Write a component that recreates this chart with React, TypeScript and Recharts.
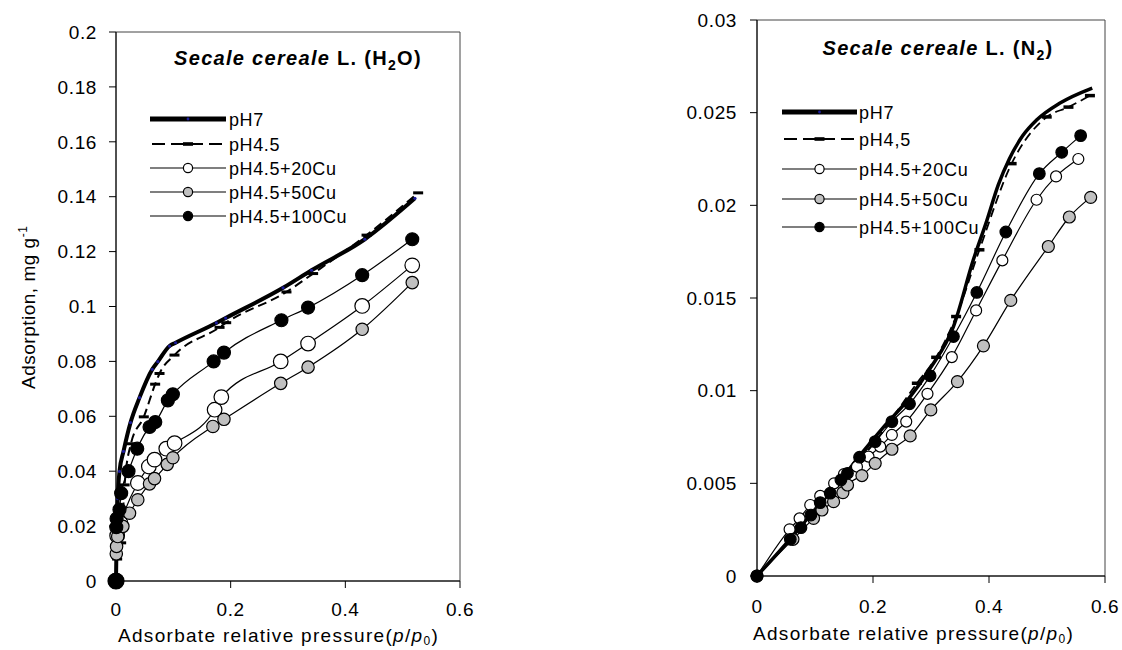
import React from 'react';
import { LineChart, Line, XAxis, YAxis, ReferenceArea } from 'recharts';

const FONT = "'Liberation Sans', Arial, Helvetica, sans-serif";

// ---------- axis ticks ----------
const xTicks = [0, 0.2, 0.4, 0.6];
const h2oYTicks = [0, 0.02, 0.04, 0.06, 0.08, 0.1, 0.12, 0.14, 0.16, 0.18, 0.2];
const n2YTicks = [0, 0.005, 0.01, 0.015, 0.02, 0.025, 0.03];

// ---------- series names ----------
const h2oSeries = ['pH7', 'pH4.5', 'pH4.5+20Cu', 'pH4.5+50Cu', 'pH4.5+100Cu'];
const n2Series = ['pH7', 'pH4,5', 'pH4.5+20Cu', 'pH4.5+50Cu', 'pH4.5+100Cu'];

// ---------- H2O (left) ----------
const h2oPH7X = [0, 0.001, 0.003, 0.0061, 0.0131, 0.0253, 0.041, 0.0632, 0.073, 0.0934, 0.104, 0.175, 0.1913, 0.2914, 0.341, 0.434, 0.5214];
const h2oPH7Y = [0, 0.015, 0.03, 0.0399, 0.0472, 0.0577, 0.0668, 0.0771, 0.0799, 0.0856, 0.0868, 0.094, 0.0958, 0.1068, 0.1132, 0.1245, 0.1394];

const h2oPH45X = [0, 0.002, 0.009, 0.015, 0.026, 0.0485, 0.0683, 0.0759, 0.102, 0.1806, 0.1922, 0.2973, 0.3438, 0.437, 0.527];
const h2oPH45Y = [0, 0.008, 0.0139, 0.035, 0.05, 0.0598, 0.0717, 0.0756, 0.0823, 0.0924, 0.0941, 0.1053, 0.112, 0.126, 0.1414];

const h2oCu20X = [0, 0.002, 0.008, 0.0381, 0.0573, 0.0672, 0.0877, 0.1022, 0.172, 0.1837, 0.2873, 0.335, 0.4294, 0.5167];
const h2oCu20Y = [0, 0.0165, 0.021, 0.0357, 0.0417, 0.0442, 0.0482, 0.0502, 0.0624, 0.067, 0.08, 0.0865, 0.1002, 0.115];

const h2oCu50X = [0, 0.0005, 0.001, 0.003, 0.012, 0.0236, 0.038, 0.0585, 0.0672, 0.0894, 0.0992, 0.169, 0.1883, 0.2873, 0.335, 0.4294, 0.5167];
const h2oCu50Y = [0, 0.0099, 0.0126, 0.0162, 0.0199, 0.0247, 0.0296, 0.0354, 0.0373, 0.0425, 0.0449, 0.0563, 0.0589, 0.072, 0.0779, 0.0917, 0.1087];

const h2oCu100X = [0, 0.0005, 0.001, 0.0061, 0.009, 0.0218, 0.037, 0.0585, 0.0685, 0.0905, 0.0992, 0.1703, 0.1883, 0.2885, 0.335, 0.4294, 0.5167];
const h2oCu100Y = [0, 0.0196, 0.0227, 0.026, 0.032, 0.04, 0.0482, 0.0561, 0.0579, 0.0658, 0.068, 0.08, 0.0832, 0.095, 0.0996, 0.1114, 0.1245];

// ---------- N2 (right) ----------
const n2PH7X = [0, 0.06, 0.1, 0.14, 0.18, 0.22, 0.26, 0.2985, 0.3387, 0.373, 0.396, 0.416, 0.435, 0.458, 0.482, 0.5225, 0.578];
const n2PH7Y = [0, 0.0021, 0.0036, 0.005, 0.0066, 0.0081, 0.0095, 0.0112, 0.01346, 0.01706, 0.01915, 0.0211, 0.0225, 0.02375, 0.0246, 0.02552, 0.02633];

const n2PH45X = [0, 0.06, 0.1, 0.15, 0.2, 0.2756, 0.3089, 0.3433, 0.3835, 0.439, 0.4995, 0.537, 0.574];
const n2PH45Y = [0, 0.0021, 0.0036, 0.0053, 0.0071, 0.0104, 0.0118, 0.014, 0.0176, 0.02225, 0.02477, 0.0253, 0.02592];

const n2Cu20X = [0, 0.0562, 0.0734, 0.0918, 0.109, 0.133, 0.15, 0.1723, 0.1923, 0.2124, 0.2325, 0.2573, 0.2939, 0.3359, 0.3778, 0.423, 0.482, 0.5156, 0.554];
const n2Cu20Y = [0, 0.00252, 0.00311, 0.00383, 0.00432, 0.005, 0.0055, 0.0059, 0.00644, 0.00698, 0.00761, 0.00833, 0.00983, 0.01181, 0.01433, 0.01703, 0.0203, 0.02156, 0.0225];

const n2Cu50X = [0, 0.062, 0.0975, 0.112, 0.132, 0.1481, 0.1561, 0.1809, 0.2038, 0.2326, 0.2641, 0.2997, 0.3456, 0.3904, 0.4375, 0.5023, 0.5385, 0.5753];
const n2Cu50Y = [0, 0.00198, 0.00311, 0.00356, 0.00401, 0.0045, 0.00491, 0.00542, 0.00608, 0.00684, 0.00756, 0.00896, 0.01049, 0.01242, 0.01487, 0.01778, 0.01937, 0.02043];

const n2Cu100X = [0, 0.0574, 0.0758, 0.093, 0.109, 0.1263, 0.1447, 0.156, 0.1768, 0.2038, 0.2326, 0.263, 0.2985, 0.3387, 0.379, 0.429, 0.4868, 0.5254, 0.558];
const n2Cu100Y = [0, 0.00198, 0.00261, 0.00329, 0.00396, 0.00447, 0.00518, 0.00554, 0.00641, 0.00725, 0.00833, 0.00929, 0.0108, 0.01292, 0.0153, 0.01856, 0.02171, 0.02286, 0.02376];

type Pt = { x: number; y: number };
const pts = (xs: number[], ys: number[]): Pt[] => xs.map((x, i) => ({ x, y: ys[i] }));

const GRAY = '#c0c0c0';

const circleDot = (fill: string, r: number, r0?: number) => (p: any) => {
  const key = `c-${p.index}`;
  if (p.cx == null || p.cy == null) return <g key={key} />;
  const rr = p.index === 0 && r0 ? r0 : r;
  return <circle key={key} cx={p.cx} cy={p.cy} r={rr} fill={fill} stroke="#000" strokeWidth={1.2} />;
};
const barDot = (w: number, h: number) => (p: any) => {
  const key = `b-${p.index}`;
  if (p.cx == null || p.cy == null) return <g key={key} />;
  return <rect key={key} x={p.cx - w / 2} y={p.cy - h / 2} width={w} height={h} fill="#000" />;
};
const blueDot = (p: any) => {
  const key = `u-${p.index}`;
  if (p.cx == null || p.cy == null) return <g key={key} />;
  return <circle key={key} cx={p.cx} cy={p.cy} r={1.6} fill="#1c1c9c" />;
};

const tickStyle = { fontSize: 19, fill: '#000', fontFamily: FONT, letterSpacing: 0.6 };

function H2OChart() {
  return (
    <LineChart width={480} height={650} margin={{ top: 32, right: 20, bottom: 19, left: 0 }}>
      <ReferenceArea x1={0} x2={0.6} y1={0} y2={0.2} fill="none" stroke="#444" strokeWidth={1} ifOverflow="visible" />
      <XAxis type="number" dataKey="x" domain={[0, 0.6]} ticks={xTicks} interval={0} height={50}
        tickSize={7} tickMargin={15} tick={tickStyle} axisLine={{ stroke: '#000' }} tickLine={{ stroke: '#000' }} />
      <YAxis type="number" domain={[0, 0.2]} ticks={h2oYTicks} interval={0} width={116}
        tickSize={7} tickMargin={12} tick={tickStyle} axisLine={{ stroke: '#000' }} tickLine={{ stroke: '#000' }} />
      <Line name={h2oSeries[0]} data={pts(h2oPH7X, h2oPH7Y)} dataKey="y" type="monotone" stroke="#000" strokeWidth={4}
        dot={blueDot} activeDot={false} isAnimationActive={false} />
      <Line name={h2oSeries[1]} data={pts(h2oPH45X, h2oPH45Y)} dataKey="y" type="monotone" stroke="#000" strokeWidth={2}
        strokeDasharray="9 5" dot={barDot(10, 3)} activeDot={false} isAnimationActive={false} />
      <Line name={h2oSeries[2]} data={pts(h2oCu20X, h2oCu20Y)} dataKey="y" type="monotone" stroke="#000" strokeWidth={1.2}
        dot={circleDot('#fff', 7.3)} activeDot={false} isAnimationActive={false} />
      <Line name={h2oSeries[3]} data={pts(h2oCu50X, h2oCu50Y)} dataKey="y" type="monotone" stroke="#000" strokeWidth={1.2}
        dot={circleDot(GRAY, 6.2)} activeDot={false} isAnimationActive={false} />
      <Line name={h2oSeries[4]} data={pts(h2oCu100X, h2oCu100Y)} dataKey="y" type="monotone" stroke="#000" strokeWidth={1.2}
        dot={circleDot('#000', 6.5, 8)} activeDot={false} isAnimationActive={false} />
    </LineChart>
  );
}

function N2Chart() {
  return (
    <LineChart width={482} height={650} margin={{ top: 20, right: 17, bottom: 24, left: 0 }}>
      <ReferenceArea x1={0} x2={0.6} y1={0} y2={0.03} fill="none" stroke="#444" strokeWidth={1} ifOverflow="visible" />
      <XAxis type="number" dataKey="x" domain={[0, 0.6]} ticks={xTicks} interval={0} height={50}
        tickSize={7} tickMargin={17} tick={tickStyle} axisLine={{ stroke: '#000' }} tickLine={{ stroke: '#000' }} />
      <YAxis type="number" domain={[0, 0.03]} ticks={n2YTicks} interval={0} width={117}
        tickSize={7} tickMargin={13} tick={tickStyle} axisLine={{ stroke: '#000' }} tickLine={{ stroke: '#000' }} />
      <Line name={n2Series[0]} data={pts(n2PH7X, n2PH7Y)} dataKey="y" type="monotone" stroke="#000" strokeWidth={3.5}
        dot={false} activeDot={false} isAnimationActive={false} />
      <Line name={n2Series[1]} data={pts(n2PH45X, n2PH45Y)} dataKey="y" type="monotone" stroke="#000" strokeWidth={1.8}
        strokeDasharray="9 5" dot={barDot(10, 3.5)} activeDot={false} isAnimationActive={false} />
      <Line name={n2Series[2]} data={pts(n2Cu20X, n2Cu20Y)} dataKey="y" type="monotone" stroke="#000" strokeWidth={1.2}
        dot={circleDot('#fff', 5.5)} activeDot={false} isAnimationActive={false} />
      <Line name={n2Series[3]} data={pts(n2Cu50X, n2Cu50Y)} dataKey="y" type="monotone" stroke="#000" strokeWidth={1.2}
        dot={circleDot(GRAY, 6)} activeDot={false} isAnimationActive={false} />
      <Line name={n2Series[4]} data={pts(n2Cu100X, n2Cu100Y)} dataKey="y" type="monotone" stroke="#000" strokeWidth={1.2}
        dot={circleDot('#000', 5.8)} activeDot={false} isAnimationActive={false} />
    </LineChart>
  );
}

function LegendBlock({ names, x1, x2, tx, rows, spacing }: { names: string[]; x1: number; x2: number; tx: number; rows: number[]; spacing: number }) {
  const mx = (x1 + x2) / 2;
  return (
    <g fontFamily={FONT} fontSize={18} fill="#000">
      {names.map((n, i) => {
        const y = rows[i];
        let glyph: React.ReactNode = null;
        if (i === 0) {
          glyph = (
            <g>
              <line x1={x1} y1={y} x2={x2} y2={y} stroke="#000" strokeWidth={5} />
              <circle cx={mx} cy={y} r={1.4} fill="#1c1c9c" />
            </g>
          );
        } else if (i === 1) {
          glyph = (
            <g>
              <line x1={x1 + 2} y1={y} x2={x2} y2={y} stroke="#000" strokeWidth={2} strokeDasharray="13 6" />
              <rect x={mx - 5} y={y - 1.8} width={10} height={3.6} fill="#000" />
            </g>
          );
        } else {
          const fill = i === 2 ? '#fff' : i === 3 ? GRAY : '#000';
          glyph = (
            <g>
              <line x1={x1} y1={y} x2={x2} y2={y} stroke="#000" strokeWidth={1.2} />
              <circle cx={mx} cy={y} r={4.6} fill={fill} stroke="#000" strokeWidth={1.2} />
            </g>
          );
        }
        return (
          <g key={n + i}>
            {glyph}
            <text x={tx} y={y + 6.5} letterSpacing={spacing}>{n}</text>
          </g>
        );
      })}
    </g>
  );
}

function Overlay() {
  return (
    <svg width={1122} height={650} style={{ position: 'absolute', left: 0, top: 0, pointerEvents: 'none' }}>
      {/* titles */}
      <text x={298} y={65} textAnchor="middle" fontFamily={FONT} fontSize={20} fontWeight="bold" letterSpacing={1.3}>
        <tspan fontStyle="italic">Secale cereale</tspan>
        <tspan> L. (H</tspan>
        <tspan dy={5} fontSize={14}>2</tspan>
        <tspan dy={-5}>O)</tspan>
      </text>
      <text x={938} y={55} textAnchor="middle" fontFamily={FONT} fontSize={20} fontWeight="bold" letterSpacing={1.3}>
        <tspan fontStyle="italic">Secale cereale</tspan>
        <tspan> L. (N</tspan>
        <tspan dy={5} fontSize={14}>2</tspan>
        <tspan dy={-5}>)</tspan>
      </text>

      {/* legends */}
      <LegendBlock names={h2oSeries} x1={150} x2={226} tx={229} rows={[119, 144, 168, 192, 216]} spacing={0.6} />
      <LegendBlock names={n2Series} x1={782} x2={857} tx={859} rows={[112, 139, 169, 199, 227]} spacing={0.8} />

      {/* y label */}
      <text transform="rotate(-90)" x={-389} y={35} textAnchor="start" fontFamily={FONT} fontSize={19} letterSpacing={0.5}>
        Adsorption, mg g<tspan dy={-8} fontSize={12}>-1</tspan>
      </text>

      {/* x labels */}
      <text x={118} y={642} fontFamily={FONT} fontSize={19} letterSpacing={1.3}>
        Adsorbate relative pressure(<tspan fontStyle="italic">p</tspan>/<tspan fontStyle="italic">p</tspan>
        <tspan dy={3} fontSize={12}>0</tspan><tspan dy={-3}>)</tspan>
      </text>
      <text x={753} y={640} fontFamily={FONT} fontSize={19} letterSpacing={1.3}>
        Adsorbate relative pressure(<tspan fontStyle="italic">p</tspan>/<tspan fontStyle="italic">p</tspan>
        <tspan dy={3} fontSize={12}>0</tspan><tspan dy={-3}>)</tspan>
      </text>
    </svg>
  );
}

export default function App() {
  return (
    <div style={{ position: 'absolute', left: 0, top: 0, width: 1122, height: 650, background: '#fff', overflow: 'hidden' }}>
      <div style={{ position: 'absolute', left: 0, top: 0 }}>
        <H2OChart />
      </div>
      <div style={{ position: 'absolute', left: 640, top: 0 }}>
        <N2Chart />
      </div>
      <Overlay />
    </div>
  );
}
